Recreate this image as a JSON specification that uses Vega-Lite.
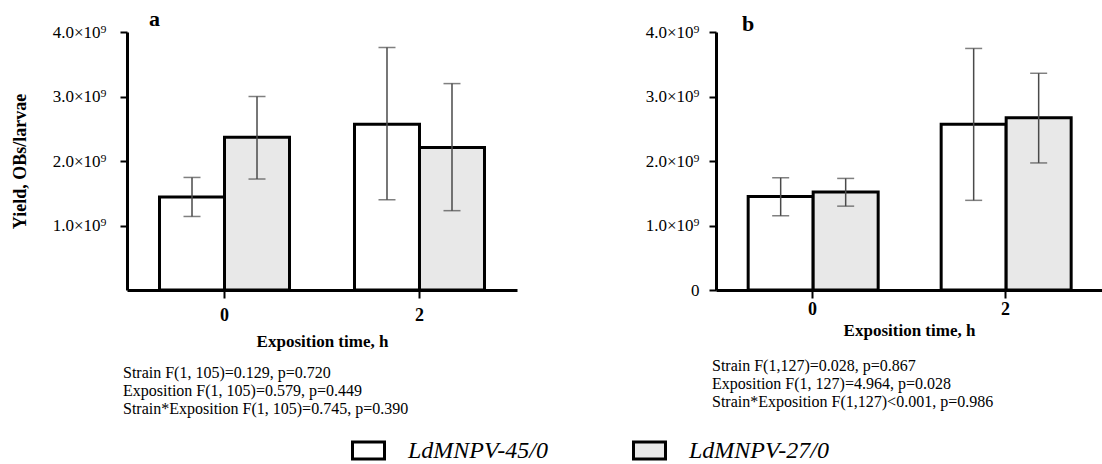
{
  "$schema": "https://vega.github.io/schema/vega-lite/v6.json",
  "background": "white",
  "padding": {"left": 11, "top": 8, "right": 0, "bottom": 0},
  "datasets": {
    "a": [
      {"time": "0", "strain": "LdMNPV-45/0", "mean": 1.44e9, "lo": 1.14e9, "hi": 1.745e9},
      {"time": "0", "strain": "LdMNPV-27/0", "mean": 2.37e9, "lo": 1.72e9, "hi": 3.0e9},
      {"time": "2", "strain": "LdMNPV-45/0", "mean": 2.57e9, "lo": 1.40e9, "hi": 3.76e9},
      {"time": "2", "strain": "LdMNPV-27/0", "mean": 2.21e9, "lo": 1.23e9, "hi": 3.20e9}
    ],
    "b": [
      {"time": "0", "strain": "LdMNPV-45/0", "mean": 1.45e9, "lo": 1.15e9, "hi": 1.74e9},
      {"time": "0", "strain": "LdMNPV-27/0", "mean": 1.52e9, "lo": 1.30e9, "hi": 1.73e9},
      {"time": "2", "strain": "LdMNPV-45/0", "mean": 2.57e9, "lo": 1.39e9, "hi": 3.745e9},
      {"time": "2", "strain": "LdMNPV-27/0", "mean": 2.67e9, "lo": 1.97e9, "hi": 3.36e9}
    ]
  },
  "config": {
    "font": "Liberation Serif",
    "view": {"stroke": null},
    "axis": {
      "domainColor": "black", "domainWidth": 3, "tickColor": "black", "tickWidth": 2,
      "tickSize": 7, "labelFont": "Liberation Serif", "labelColor": "black",
      "titleFont": "Liberation Serif", "titleColor": "black", "grid": false
    },
    "legend": {
      "orient": "none", "direction": "horizontal", "legendX": 224, "legendY": 401,
      "symbolType": "M-1,-0.53H1V0.53H-1Z", "symbolSize": 1024,
      "symbolStrokeColor": "black", "symbolStrokeWidth": 3,
      "labelFont": "Liberation Serif", "labelFontSize": 24, "labelFontStyle": "italic",
      "labelColor": "black", "labelOffset": 22, "columnPadding": 78, "title": null
    },
    "title": {"font": "Liberation Serif", "color": "black", "fontWeight": "normal", "fontSize": 16, "lineHeight": 18}
  },
  "hconcat": [
    {
      "width": 390, "height": 258,
      "data": {"name": "a"},
      "title": {"text": ["Strain F(1, 105)=0.129, p=0.720", "Exposition F(1, 105)=0.579, p=0.449", "Strain*Exposition F(1, 105)=0.745, p=0.390"], "orient": "bottom", "anchor": "start", "frame": "group", "dx": -4, "offset": 16},
      "encoding": {
        "x": {"field": "time", "type": "nominal", "scale": {"paddingInner": 0.3333, "paddingOuter": 0.1667},
          "axis": {"title": "Exposition time, h", "labelAngle": 0, "labelFontWeight": "bold", "labelFontSize": 18, "tickSize": 8, "labelPadding": 8, "titleFontWeight": "bold", "titleFontSize": 17, "titlePadding": 9}}
      },
      "layer": [
        {
          "mark": {"type": "bar", "stroke": "black", "strokeWidth": 3},
          "encoding": {
            "xOffset": {"field": "strain", "type": "nominal", "sort": ["LdMNPV-45/0", "LdMNPV-27/0"], "scale": {"paddingInner": 0, "paddingOuter": 0}},
            "y": {"field": "mean", "type": "quantitative", "scale": {"domain": [0, 4e9]},
              "axis": {"values": [1e9, 2e9, 3e9, 4e9], "labelExpr": "format(datum.value/1e9, '.1f') + '×10⁹'", "labelFontSize": 17, "labelPadding": 14, "title": "Yield, OBs/larvae", "titleFontWeight": "bold", "titleFontSize": 18, "titlePadding": 23}},
            "fill": {"field": "strain", "type": "nominal", "scale": {"domain": ["LdMNPV-45/0", "LdMNPV-27/0"], "range": ["white", "#e8e8e8"]}}
          }
        },
        {
          "mark": {"type": "rule", "color": "#4a4a4a", "strokeWidth": 1.5},
          "encoding": {
            "xOffset": {"field": "strain", "type": "nominal", "sort": ["LdMNPV-45/0", "LdMNPV-27/0"]},
            "y": {"field": "lo", "type": "quantitative"},
            "y2": {"field": "hi"}
          }
        },
        {
          "mark": {"type": "tick", "color": "#4a4a4a", "thickness": 1.5, "size": 17},
          "encoding": {
            "xOffset": {"field": "strain", "type": "nominal", "sort": ["LdMNPV-45/0", "LdMNPV-27/0"]},
            "y": {"field": "lo", "type": "quantitative"}
          }
        },
        {
          "mark": {"type": "tick", "color": "#4a4a4a", "thickness": 1.5, "size": 17},
          "encoding": {
            "xOffset": {"field": "strain", "type": "nominal", "sort": ["LdMNPV-45/0", "LdMNPV-27/0"]},
            "y": {"field": "hi", "type": "quantitative"}
          }
        },
        {
          "data": {"values": [{"label": "a"}]},
          "mark": {"type": "text", "fontWeight": "bold", "fontSize": 22, "font": "Liberation Serif", "color": "black", "align": "center", "dx": -5},
          "encoding": {
            "x": {"datum": "0", "bandPosition": 0},
            "y": {"datum": 4.2e9, "type": "quantitative"},
            "text": {"field": "label"}
          }
        }
      ]
    },
    {
      "width": 386, "height": 258,
      "data": {"name": "b"},
      "title": {"text": ["Strain F(1,127)=0.028, p=0.867", "Exposition F(1, 127)=4.964, p=0.028", "Strain*Exposition  F(1,127)<0.001, p=0.986"], "orient": "bottom", "anchor": "start", "frame": "group", "dx": -4, "offset": 20},
      "encoding": {
        "x": {"field": "time", "type": "nominal", "scale": {"paddingInner": 0.3333, "paddingOuter": 0.1667},
          "axis": {"title": "Exposition time, h", "labelAngle": 0, "labelFontWeight": "bold", "labelFontSize": 18, "tickSize": 8, "labelPadding": 2, "titleFontWeight": "bold", "titleFontSize": 17, "titlePadding": 4}}
      },
      "layer": [
        {
          "mark": {"type": "bar", "stroke": "black", "strokeWidth": 3},
          "encoding": {
            "xOffset": {"field": "strain", "type": "nominal", "sort": ["LdMNPV-45/0", "LdMNPV-27/0"], "scale": {"paddingInner": 0, "paddingOuter": 0}},
            "y": {"field": "mean", "type": "quantitative", "scale": {"domain": [0, 4e9]},
              "axis": {"values": [0, 1e9, 2e9, 3e9, 4e9], "labelExpr": "datum.value == 0 ? '0' : format(datum.value/1e9, '.1f') + '×10⁹'", "labelFontSize": 17, "labelPadding": 10, "title": null}},
            "fill": {"field": "strain", "type": "nominal", "scale": {"domain": ["LdMNPV-45/0", "LdMNPV-27/0"], "range": ["white", "#e8e8e8"]}}
          }
        },
        {
          "mark": {"type": "rule", "color": "#4a4a4a", "strokeWidth": 1.5},
          "encoding": {
            "xOffset": {"field": "strain", "type": "nominal", "sort": ["LdMNPV-45/0", "LdMNPV-27/0"]},
            "y": {"field": "lo", "type": "quantitative"},
            "y2": {"field": "hi"}
          }
        },
        {
          "mark": {"type": "tick", "color": "#4a4a4a", "thickness": 1.5, "size": 17},
          "encoding": {
            "xOffset": {"field": "strain", "type": "nominal", "sort": ["LdMNPV-45/0", "LdMNPV-27/0"]},
            "y": {"field": "lo", "type": "quantitative"}
          }
        },
        {
          "mark": {"type": "tick", "color": "#4a4a4a", "thickness": 1.5, "size": 17},
          "encoding": {
            "xOffset": {"field": "strain", "type": "nominal", "sort": ["LdMNPV-45/0", "LdMNPV-27/0"]},
            "y": {"field": "hi", "type": "quantitative"}
          }
        },
        {
          "data": {"values": [{"label": "b"}]},
          "mark": {"type": "text", "fontWeight": "bold", "fontSize": 22, "font": "Liberation Serif", "color": "black", "align": "center", "dx": 0},
          "encoding": {
            "x": {"datum": "0", "bandPosition": 0},
            "y": {"datum": 4.12e9, "type": "quantitative"},
            "text": {"field": "label"}
          }
        }
      ]
    }
  ],
  "spacing": 128
}
